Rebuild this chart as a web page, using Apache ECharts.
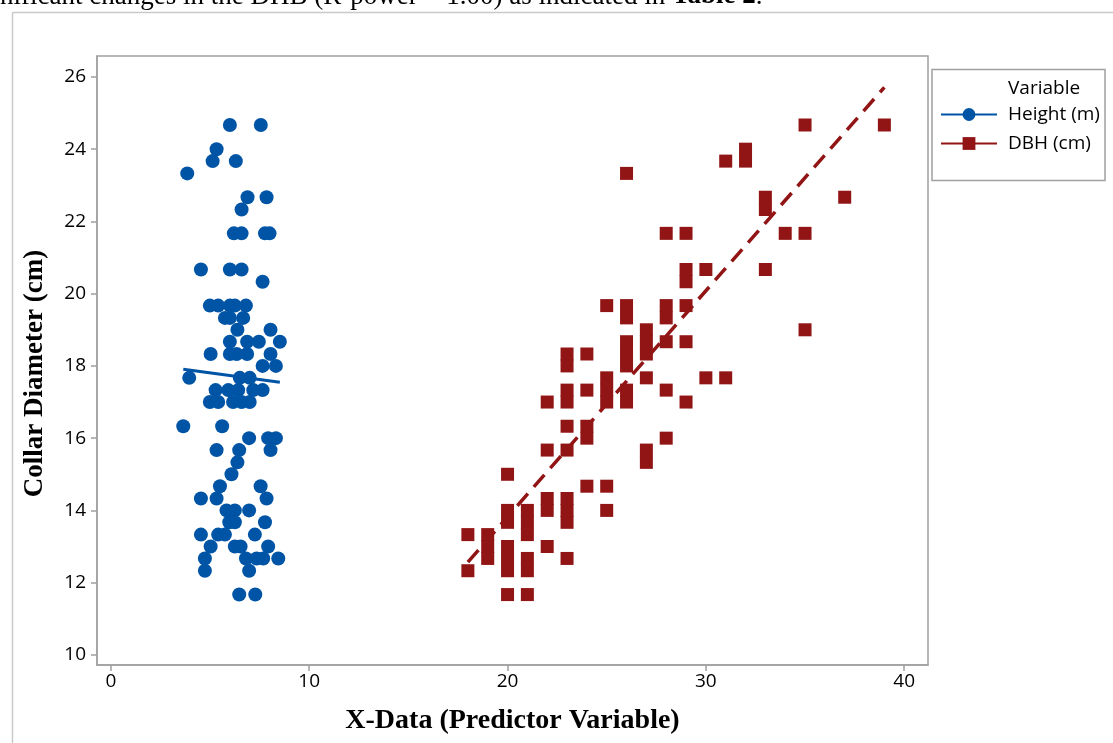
<!DOCTYPE html>
<html><head><meta charset="utf-8">
<script src="https://cdn.jsdelivr.net/npm/echarts@6/dist/echarts.min.js"></script>
<style>html,body{margin:0;padding:0;background:#fff}#c{width:1113px;height:743px}</style>
</head><body><div id="c"></div>
<script>
// Height (m) vs Collar Diameter (cm)
const heightX = [6.0,7.56,5.33,5.13,6.30,3.85,6.89,7.85,6.59,6.2,6.59,7.77,8.0,4.54,6.0,6.59,7.65,
  4.99,5.41,6.0,6.25,6.81, 5.75,6.0,6.67, 6.38,8.05, 6.0,6.87,7.46,8.52, 5.03,6.0,6.34,6.87,8.05,
  7.65,8.32, 3.95,6.5,7.0, 5.28,5.92,6.42,7.18,7.65, 4.99,5.41,6.16,6.59,7.0, 3.65,5.61,
  6.97,7.93,8.32, 5.33,6.47,8.05, 6.38, 6.08, 5.5,7.55, 4.54,5.33,7.85, 5.83,6.25,6.97,
  5.97,6.25,7.77, 4.54,5.41,5.75,7.26, 5.03,6.25,6.54,7.93, 4.74,6.81,7.35,7.68,8.44, 4.74,6.97, 6.47,7.28];
const heightY = [24.67,24.67,24.0,23.67,23.67,23.33,22.67,22.67,22.33,21.67,21.67,21.67,21.67,20.67,20.67,20.67,20.33,
  19.67,19.67,19.67,19.67,19.67, 19.33,19.33,19.33, 19.0,19.0, 18.67,18.67,18.67,18.67, 18.33,18.33,18.33,18.33,18.33,
  18.0,18.0, 17.67,17.67,17.67, 17.33,17.33,17.33,17.33,17.33, 17.0,17.0,17.0,17.0,17.0, 16.33,16.33,
  16.0,16.0,16.0, 15.67,15.67,15.67, 15.33, 15.0, 14.67,14.67, 14.33,14.33,14.33, 14.0,14.0,14.0,
  13.67,13.67,13.67, 13.33,13.33,13.33,13.33, 13.0,13.0,13.0,13.0, 12.67,12.67,12.67,12.67,12.67, 12.33,12.33, 11.67,11.67];

// DBH (cm) vs Collar Diameter (cm)
const dbhX = [18,18, 19,19,19, 20,20,20,20,20,20,20, 21,21,21,21,21,21, 22,22,22,22,22,
  23,23,23,23,23,23,23,23,23,23, 24,24,24,24,24, 25,25,25,25,25,25, 26,26,26,26,26,26,26,26,
  27,27,27,27,27,27, 28,28,28,28,28,28, 29,29,29,29,29,29, 30,30, 31,31, 32,32, 33,33,33, 34, 35,35,35, 37, 39];
const dbhY = [13.33,12.33, 13.33,13.0,12.67, 15.0,14.0,13.67,13.0,12.67,12.33,11.67, 14.0,13.67,13.33,12.67,12.33,11.67,
  17.0,15.67,14.33,14.0,13.0,
  18.33,18.0,17.33,17.0,16.33,15.67,14.33,14.0,13.67,12.67, 18.33,17.33,16.33,16.0,14.67,
  19.67,17.67,17.33,17.0,14.67,14.0, 23.33,19.67,19.33,18.67,18.33,18.0,17.33,17.0,
  19.0,18.67,18.33,17.67,15.67,15.33, 21.67,19.67,19.33,18.67,17.33,16.0, 21.67,20.67,20.33,19.67,18.67,17.0,
  20.67,17.67, 23.67,17.67, 24.0,23.67, 22.67,22.33,20.67, 21.67, 24.67,21.67,19.0, 22.67, 24.67];

// fitted lines: [intercept, slope]
const heightFit = [18.18, -0.074];
const dbhFit = [1.30, 0.626];

const xTicks = [0, 10, 20, 30, 40];
const yTicks = [10, 12, 14, 16, 18, 20, 22, 24, 26];

const BLUE = '#0054a5', RED = '#921515', GREY = '#a0a0a0';
const zip = (a, b) => a.map((v, i) => [v, b[i]]);
const fitLine = (xs, c) => {
  const lo = Math.min(...xs), hi = Math.max(...xs);
  return [[lo, c[0] + c[1] * lo], [hi, c[0] + c[1] * hi]];
};
const labelFont = '"Open Sans", "Noto Sans", sans-serif';
const titleFont = '"Liberation Serif", "Times New Roman", serif';

const chart = echarts.init(document.getElementById('c'), null, {renderer: 'canvas'});
chart.setOption({
  animation: false,
  backgroundColor: '#fff',
  grid: {left: 97, top: 56, right: 185, bottom: 78, show: true, borderColor: GREY, borderWidth: 1.5,
         backgroundColor: 'transparent', outerBoundsMode: 'none'},
  xAxis: {
    type: 'value', min: -0.7, max: 41.2,
    name: 'X-Data (Predictor Variable)', nameLocation: 'middle', nameGap: 42,
    nameTextStyle: {fontFamily: titleFont, fontWeight: 'bold', fontSize: 28, color: '#000'},
    axisLine: {show: true, onZero: false, lineStyle: {color: GREY, width: 1.5}},
    axisTick: {show: true, length: 6, customValues: xTicks, lineStyle: {color: GREY, width: 1.5}},
    axisLabel: {customValues: xTicks, fontFamily: labelFont, fontSize: 19, color: '#000', margin: 7},
    splitLine: {show: false}
  },
  yAxis: {
    type: 'value', min: 9.72, max: 26.58,
    name: 'Collar Diameter (cm)', nameLocation: 'middle', nameGap: 48, nameRotate: 90,
    nameTextStyle: {fontFamily: titleFont, fontWeight: 'bold', fontSize: 27, color: '#000', padding: [0, 26, 0, 0]},
    axisLine: {show: true, onZero: false, lineStyle: {color: GREY, width: 1.5}},
    axisTick: {show: true, length: 6, customValues: yTicks, lineStyle: {color: GREY, width: 1.5}},
    axisLabel: {customValues: yTicks, fontFamily: labelFont, fontSize: 19, color: '#000', margin: 11},
    splitLine: {show: false}
  },
  legend: {
    orient: 'vertical', left: 940, top: 105, padding: 0,
    itemWidth: 56, itemHeight: 16, itemGap: 10, selectedMode: false,
    textStyle: {fontFamily: labelFont, fontSize: 19, color: '#000', padding: [0, 0, 0, 6]},
    data: [{name: 'Height (m)', lineStyle: {type: 'solid'}}, {name: 'DBH (cm)', lineStyle: {type: 'solid'}}]
  },
  graphic: [
    {type: 'rect', silent: true, shape: {x: 932, y: 69.5, width: 173, height: 111},
     style: {fill: 'none', stroke: GREY, lineWidth: 1.5}},
    {type: 'text', silent: true, x: 1008, y: 89,
     style: {text: 'Variable', fontFamily: labelFont, fontSize: 19, fill: '#000', verticalAlign: 'middle'}},
    {type: 'line', silent: true, shape: {x1: 12.5, y1: 12.5, x2: 1113, y2: 12.5}, style: {stroke: '#c9c9c9', lineWidth: 1.5}},
    {type: 'line', silent: true, shape: {x1: 12.5, y1: 12.5, x2: 12.5, y2: 743}, style: {stroke: '#c9c9c9', lineWidth: 1.5}},
    {type: 'text', silent: true, x: 0, y: 10,
     style: {text: '{n|nificant changes in the DHB (R-power = 1.00) as indicated in }{b|Table 2}{n|.}',
       verticalAlign: 'bottom',
       rich: {n: {fontFamily: titleFont, fontSize: 27, fill: '#000'},
              b: {fontFamily: titleFont, fontSize: 27, fontWeight: 'bold', fill: '#000'}}}}
  ],
  series: [
    {name: 'Height (m)', type: 'line', data: fitLine(heightX, heightFit), symbol: 'circle', showSymbol: false,
     z: 5, silent: true, itemStyle: {color: BLUE}, lineStyle: {color: BLUE, width: 3}},
    {name: 'DBH (cm)', type: 'line', data: fitLine(dbhX, dbhFit), symbol: 'rect', showSymbol: false,
     z: 5, silent: true, itemStyle: {color: RED}, lineStyle: {color: RED, width: 3.5, type: [16, 9]}},
    {name: 'Height (m)', type: 'scatter', data: zip(heightX, heightY), symbol: 'circle', symbolSize: 14,
     z: 3, silent: true, itemStyle: {color: BLUE, opacity: 1}},
    {name: 'DBH (cm)', type: 'scatter', data: zip(dbhX, dbhY), symbol: 'rect', symbolSize: 13,
     z: 3, silent: true, itemStyle: {color: RED, opacity: 1}}
  ]
});
</script></body></html>
